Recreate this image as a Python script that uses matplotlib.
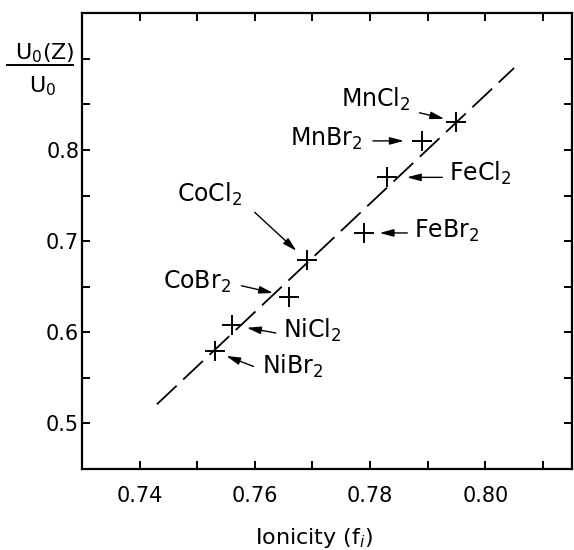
import matplotlib
matplotlib.use('Agg')
import matplotlib.pyplot as plt
from matplotlib.ticker import MultipleLocator, FixedLocator
from matplotlib.lines import Line2D

# data
compounds = ['MnCl$_2$', 'MnBr$_2$', 'FeCl$_2$', 'FeBr$_2$',
             'CoCl$_2$', 'CoBr$_2$', 'NiCl$_2$', 'NiBr$_2$']
ionicity = [0.795, 0.789, 0.783, 0.779, 0.769, 0.766, 0.756, 0.753]
ratio = [0.831, 0.810, 0.770, 0.709, 0.679, 0.639, 0.608, 0.579]

# dashed guide line end points
fit_x = [0.743, 0.805]
fit_y = [0.521, 0.890]

# label placement (pixels relative to the point): text offset, arrow tail, gap at head
text_off = [(-81, 22), (-96, 2), (93, 4), (82, 2), (-97, 66), (-92, 15), (80, -5), (78, -15)]
tail_off = [(-37, 9), (-49, 0), (55, 0), (43, 0), (-52, 48), (-48, 11), (44, -8), (39, -15)]
head_gap = [9, 13, 14, 11, 10, 12, 11, 9]

plt.rcParams['font.family'] = 'DejaVu Sans'
plt.rcParams['mathtext.fontset'] = 'dejavusans'

fig = plt.figure(figsize=(5.74, 5.5), dpi=100)
ax = fig.add_axes([82 / 574, 1 - 469 / 550, (571.7 - 82) / 574, (469 - 13.3) / 550])

ax.plot(fit_x, fit_y, color='black', lw=1.3, linestyle=(0, (15, 5)))
ax.plot(ionicity, ratio, linestyle='none', marker='+', markersize=14,
        markeredgewidth=1.4, color='black')

for name, x, y, t, a, g in zip(compounds, ionicity, ratio, text_off, tail_off, head_gap):
    ax.annotate(name, xy=(x, y), xytext=t, textcoords='offset pixels',
                ha='center', va='center', fontsize=17)
    ax.annotate('', xy=(x, y), xytext=a, textcoords='offset pixels',
                arrowprops=dict(arrowstyle='-|>,head_length=0.6,head_width=0.16',
                                mutation_scale=14, color='black', lw=1.0,
                                shrinkA=0, shrinkB=g))

ax.set_xlim(0.73, 0.815)
ax.set_ylim(0.45, 0.95)
ax.xaxis.set_major_locator(FixedLocator([0.74, 0.76, 0.78, 0.80]))
ax.xaxis.set_minor_locator(MultipleLocator(0.01))
ax.yaxis.set_major_locator(FixedLocator([0.5, 0.6, 0.7, 0.8]))
ax.yaxis.set_minor_locator(MultipleLocator(0.05))
ax.set_xticklabels(['0.74', '0.76', '0.78', '0.80'])
ax.set_yticklabels(['0.5', '0.6', '0.7', '0.8'])
ax.tick_params(which='both', direction='in', top=True, right=True,
               length=6, width=1.4, labelsize=15)
ax.tick_params(axis='x', which='major', pad=12)
ax.tick_params(axis='y', which='major', pad=2)
for s in ax.spines.values():
    s.set_linewidth(1.6)

ax.set_xlabel('Ionicity (f$_i$)', fontsize=16)
ax.xaxis.set_label_coords((314 - 82) / 489.7, -0.125)

# y label written as a fraction
fig.text(45 / 574, 1 - 53 / 550, 'U$_0$(Z)', ha='center', va='center', fontsize=16)
fig.text(43 / 574, 1 - 86 / 550, 'U$_0$', ha='center', va='center', fontsize=16)
fig.add_artist(Line2D([7 / 574, 73 / 574], [1 - 65 / 550, 1 - 65 / 550],
                      color='black', lw=1.4, transform=fig.transFigure))

fig.savefig('out.png', dpi=100)
